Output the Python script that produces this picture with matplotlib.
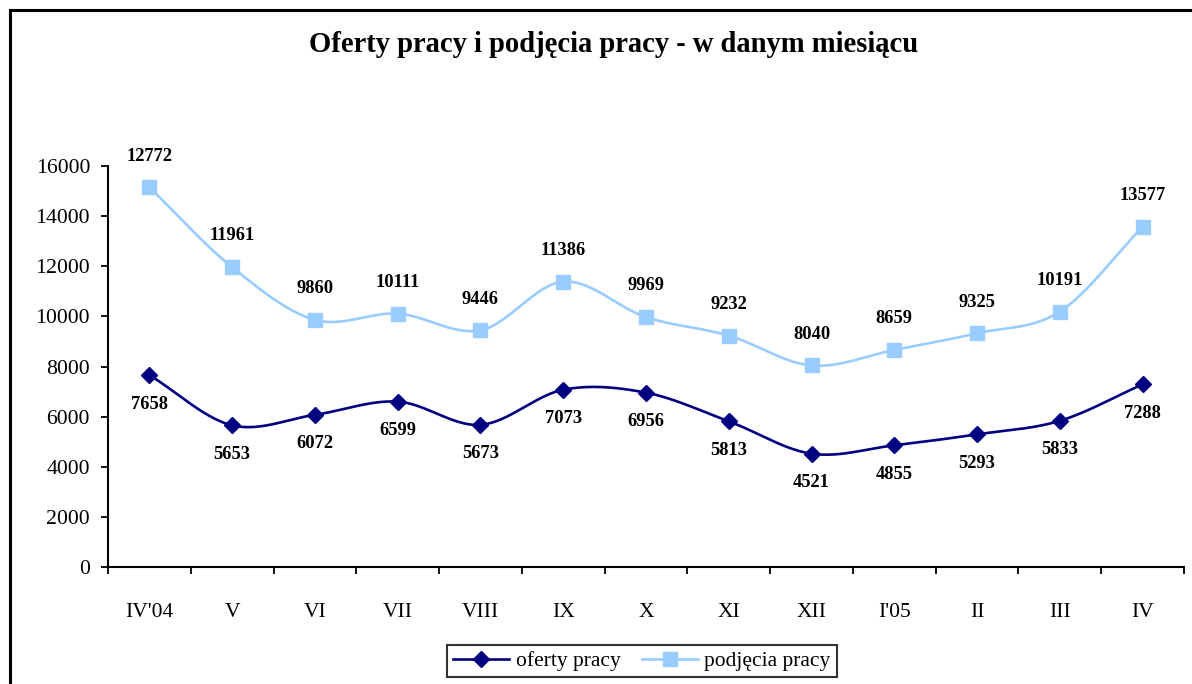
import numpy as np
import matplotlib
matplotlib.use("Agg")
import matplotlib.pyplot as plt
from matplotlib.patches import Rectangle
from matplotlib.ticker import FixedLocator, NullFormatter

# dane z wykresu
months = ["IV'04", "V", "VI", "VII", "VIII", "IX", "X", "XI", "XII", "I'05", "II", "III", "IV"]
oferty = [7658, 5653, 6072, 6599, 5673, 7073, 6956, 5813, 4521, 4855, 5293, 5833, 7288]
# pierwszy punkt na wykresie stoi wyzej niz jego etykieta (tak jest w oryginale)
podjecia = [15150, 11961, 9860, 10111, 9446, 11386, 9969, 9232, 8040, 8659, 9325, 10191, 13577]
podjecia_labels = ["12772", "11961", "9860", "10111", "9446", "11386", "9969", "9232",
                   "8040", "8659", "9325", "10191", "13577"]

NAVY = "#000080"
LIGHT = "#99CCFF"

plt.rcParams["font.family"] = ["Liberation Serif", "DejaVu Serif"]


##
# smooth line like Excel (Catmull-Rom through the points)
##
def smooth(xs, ys, n=30):
    px = np.asarray(xs, dtype=float)
    py = np.asarray(ys, dtype=float)
    px = np.concatenate([[2 * px[0] - px[1]], px, [2 * px[-1] - px[-2]]])
    py = np.concatenate([[2 * py[0] - py[1]], py, [2 * py[-1] - py[-2]]])
    out_x, out_y = [], []
    t = np.linspace(0, 1, n)
    for i in range(1, len(px) - 2):
        for arr, out in ((px, out_x), (py, out_y)):
            p0, p1, p2, p3 = arr[i - 1], arr[i], arr[i + 1], arr[i + 2]
            seg = 0.5 * ((2 * p1) + (-p0 + p2) * t + (2 * p0 - 5 * p1 + 4 * p2 - p3) * t ** 2
                         + (-p0 + 3 * p1 - 3 * p2 + p3) * t ** 3)
            out.extend(seg)
    return out_x, out_y


fig = plt.figure(figsize=(11.92, 6.84), dpi=100)
ax = fig.add_axes([108 / 1192, 1 - 567 / 684, (1184 - 108) / 1192, (567 - 166) / 684])

x = np.arange(len(months))

sx, sy = smooth(x, oferty)
ax.plot(sx, sy, color=NAVY, lw=1.9, zorder=3)
ax.plot(x, oferty, ls="none", marker="D", ms=8, color=NAVY, zorder=4)

sx, sy = smooth(x, podjecia)
ax.plot(sx, sy, color=LIGHT, lw=1.9, zorder=3)
ax.plot(x, podjecia, ls="none", marker="s", ms=10, color=LIGHT, zorder=4)

# legenda z wlasnych uchwytow (linia + marker)
h1, = ax.plot([], [], color=NAVY, lw=1.9, marker="D", ms=8, label="oferty pracy")
h2, = ax.plot([], [], color=LIGHT, lw=1.9, marker="s", ms=10, label="podjęcia pracy")

for i, v in enumerate(oferty):
    ax.annotate(str(v), (i, v), xytext=(0, -21), textcoords="offset points",
                ha="center", va="center", fontsize=13.3, fontweight="bold", clip_on=False)
for i, v in enumerate(podjecia):
    ax.annotate(podjecia_labels[i], (i, v), xytext=(0, 22.5), textcoords="offset points",
                ha="center", va="center", fontsize=13.3, fontweight="bold", clip_on=False)

ax.set_xlim(-0.5, len(months) - 0.5)
ax.set_ylim(0, 16000)
ax.set_yticks(np.arange(0, 16001, 2000))
ax.set_xticks(x)
ax.set_xticklabels(months)
ax.xaxis.set_minor_locator(FixedLocator(np.arange(-0.5, len(months), 1.0)))
ax.xaxis.set_minor_formatter(NullFormatter())

ax.tick_params(axis="x", which="major", length=0, pad=26, labelsize=15.5)
ax.tick_params(axis="x", which="minor", length=5, width=1.3, direction="out")
ax.tick_params(axis="y", length=5, width=1.3, direction="out", pad=8, labelsize=15.7)

for side in ("top", "right"):
    ax.spines[side].set_visible(False)
for side in ("left", "bottom"):
    ax.spines[side].set_linewidth(1.5)

fig.text(0.5 * (306 + 921) / 1192, 1 - 45 / 684, "Oferty pracy i podjęcia pracy - w danym miesiącu",
         ha="center", va="center", fontsize=20.6, fontweight="bold")

leg = fig.legend(handles=[h1, h2], loc="center", bbox_to_anchor=(642 / 1192, 1 - 661 / 684),
                 ncol=2, fontsize=15.5, frameon=True, fancybox=False, edgecolor="black",
                 handlelength=2.6, handletextpad=0.3, columnspacing=1.0, borderpad=0.3)
leg.get_frame().set_linewidth(1.5)

# ramka wokol calego wykresu
fig.patches.append(Rectangle((10 / 1192, -0.05), 1.2, 1 - 10 / 684 + 0.05, transform=fig.transFigure,
                             fill=False, edgecolor="black", lw=2.2))

fig.savefig("out.png", dpi=100)
